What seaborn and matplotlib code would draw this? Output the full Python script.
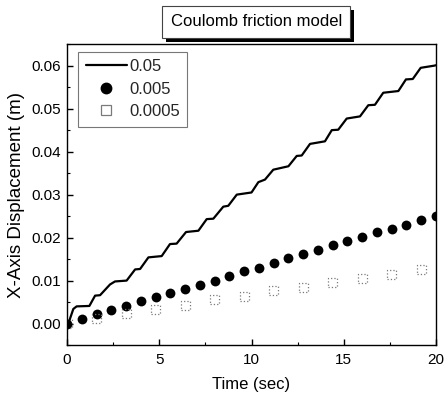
import matplotlib
matplotlib.use("Agg")
import matplotlib.pyplot as plt
import matplotlib.patheffects as pe
from matplotlib.lines import Line2D
from matplotlib.ticker import MultipleLocator, FormatStrFormatter
import seaborn as sns
import pandas as pd

# ---- data ----
line_t = [0, 0.07, 0.34, 0.52, 1.21, 1.52, 1.79, 2.33, 2.6, 3.23, 3.69, 3.96, 4.41, 5.13,
          5.58, 5.94, 6.45, 7.12, 7.57, 7.93, 8.47, 8.74, 9.2, 10.0, 10.37, 10.73, 11.18,
          12.0, 12.45, 12.72, 13.17, 13.98, 14.35, 14.7, 15.16, 15.88, 16.33, 16.69, 17.14,
          17.96, 18.37, 18.74, 19.17, 19.9, 20.0]
line_y = [0, 0.0, 0.0034, 0.0040, 0.0041, 0.0065, 0.0066, 0.0091, 0.0098, 0.0100, 0.0126,
          0.0127, 0.0154, 0.0157, 0.0185, 0.0186, 0.0213, 0.0216, 0.0243, 0.0244, 0.0272,
          0.0274, 0.0300, 0.0305, 0.0329, 0.0335, 0.0358, 0.0366, 0.0390, 0.0391, 0.0418,
          0.0424, 0.0450, 0.0451, 0.0477, 0.0482, 0.0508, 0.0509, 0.0537, 0.0541, 0.0568,
          0.0569, 0.0595, 0.0600, 0.0601]

dot_t = [0, 0.8, 1.6, 2.4, 3.2, 4.0, 4.8, 5.6, 6.4, 7.2, 8.0, 8.8, 9.6, 10.4, 11.2, 12.0,
         12.8, 13.6, 14.4, 15.2, 16.0, 16.8, 17.6, 18.4, 19.2, 20.0]
dot_y = [0, 0.00115, 0.0023, 0.0032, 0.0042, 0.0053, 0.0062, 0.0071, 0.0080, 0.0090, 0.0100,
         0.0110, 0.0122, 0.0130, 0.0142, 0.0152, 0.0162, 0.0172, 0.0182, 0.0192, 0.0202,
         0.0212, 0.0220, 0.0230, 0.0242, 0.0250]

sq_t = [0, 1.6, 3.2, 4.8, 6.4, 8.0, 9.6, 11.2, 12.8, 14.4, 16.0, 17.6, 19.2]
sq_y = [0, 0.0011, 0.0023, 0.0032, 0.0043, 0.0055, 0.0064, 0.0077, 0.0085, 0.0095, 0.0106,
        0.0115, 0.0125]

series_labels = ["0.05", "0.005", "0.0005"]
title_text = "Coulomb friction model"
x_label = "Time (sec)"
y_label = "X-Axis Displacement (m)"

sns.set_theme(style="white")
plt.rcParams["font.family"] = ["Liberation Sans", "DejaVu Sans"]

fig = plt.figure(figsize=(4.44, 3.98), dpi=100)
ax = fig.add_axes([0.151, 0.133, 0.831, 0.756])

df_line = pd.DataFrame({"t": line_t, "y": line_y})
df_dot = pd.DataFrame({"t": dot_t, "y": dot_y})
df_sq = pd.DataFrame({"t": sq_t, "y": sq_y})

sns.lineplot(data=df_line, x="t", y="y", ax=ax, color="black", linewidth=1.6,
             estimator=None, sort=False)
sns.scatterplot(data=df_dot, x="t", y="y", ax=ax, color="black", s=50, marker="o",
                edgecolor="black", linewidth=0)
sns.scatterplot(data=df_sq, x="t", y="y", ax=ax, marker="s", s=42, facecolor="none",
                edgecolor="#7a7a7a", linewidth=0.9)
ax.collections[-1].set_linestyle(":")

ax.set_xlim(0, 20)
ax.set_ylim(-0.005, 0.065)
ax.xaxis.set_major_locator(MultipleLocator(5))
ax.xaxis.set_minor_locator(MultipleLocator(2.5))
ax.yaxis.set_major_locator(MultipleLocator(0.01))
ax.yaxis.set_minor_locator(MultipleLocator(0.005))
ax.yaxis.set_major_formatter(FormatStrFormatter("%.2f"))
ax.tick_params(which="both", direction="in", bottom=True, left=True, top=False, right=False,
               labelsize=11, colors="black")
ax.tick_params(which="major", length=4, width=1)
ax.tick_params(which="minor", length=2.5, width=0.8)
ax.tick_params(axis="x", pad=6)
ax.tick_params(axis="y", pad=4)
for s in ax.spines.values():
    s.set_color("black")
    s.set_linewidth(1.0)

ax.set_xlabel(x_label, fontsize=12, color="black", labelpad=7)
ax.set_ylabel(y_label, fontsize=13.5, color="black", labelpad=5)

handles = [
    Line2D([], [], color="black", linewidth=1.6),
    Line2D([], [], color="black", marker="o", linestyle="none", markersize=7.5),
    Line2D([], [], marker="s", linestyle="none", markersize=6.5, markerfacecolor="none",
           markeredgecolor="#7a7a7a", markeredgewidth=0.9),
]
leg = ax.legend(handles, series_labels, loc="upper left", bbox_to_anchor=(0.03, 0.975),
                fontsize=12, frameon=True, fancybox=False, handlelength=2.5,
                handletextpad=0.1, borderpad=0.45, labelspacing=0.45, borderaxespad=0)
leg.get_frame().set_edgecolor("#555555")
leg.get_frame().set_linewidth(0.8)

t = fig.text(0.577, 0.945, title_text, ha="center", va="center", fontsize=12,
             color="black",
             bbox=dict(boxstyle="square,pad=0.5", fc="white", ec="#444444", lw=0.8))
t.get_bbox_patch().set_path_effects([
    pe.withSimplePatchShadow(offset=(3, -3), shadow_rgbFace="black", alpha=1.0)
])

fig.savefig("out.png", dpi=100)
